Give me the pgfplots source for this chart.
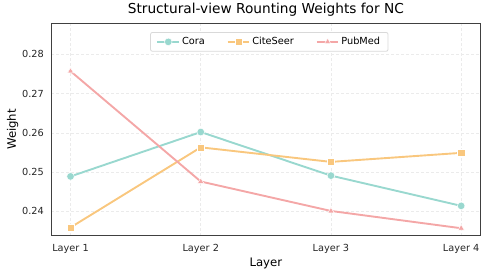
\documentclass[border=0pt]{standalone}
\usepackage{fontspec}
\setmainfont{DejaVu Sans}
\usepackage{pgfplots}
\pgfplotsset{compat=1.18}
\usetikzlibrary{calc}
\definecolor{cora}{HTML}{99D8CF}
\definecolor{cite}{HTML}{F9C77E}
\definecolor{pub}{HTML}{F4A7A7}
\begin{document}
\begin{tikzpicture}
\begin{axis}[
  scale only axis, width=429.7pt, height=212.4pt,
  xmin=0.85, xmax=4.15, ymin=0.2338, ymax=0.2879,
  xtick={1,2,3,4}, xticklabels={Layer 1,Layer 2,Layer 3,Layer 4},
  ytick={0.24,0.25,0.26,0.27,0.28},
  yticklabel style={/pgf/number format/fixed, /pgf/number format/precision=2, /pgf/number format/fixed zerofill, anchor=east, inner sep=0pt, xshift=-7pt},
  xticklabel style={anchor=base, inner sep=0pt, yshift=-15.3pt},
  /pgf/number format/assume math mode=true,
  tick label style={font=\fontsize{9.75}{11}\selectfont, text=black!85},
  major tick length=0pt,
  grid=major, grid style={dash pattern=on 3pt off 2pt, black!8, line width=0.6pt},
  axis line style={black!75, line width=0.9pt},
  title={Structural-view Rounting Weights for NC},
  title style={at={(axis description cs:0.5,1.0202)}, anchor=base, inner sep=0pt, font=\fontsize{13.7}{15}\selectfont},
  xlabel={Layer}, ylabel={Weight},
  xlabel style={at={(axis description cs:0.5,-0.1427)}, anchor=base, inner sep=0pt, font=\fontsize{11.7}{13}\selectfont},
  ylabel style={at={(axis description cs:-0.0815,0.5)}, anchor=base, inner sep=0pt, font=\fontsize{11.7}{13}\selectfont},
  legend style={at={(axis description cs:0.508,0.959)}, anchor=north, legend columns=3, draw=black!15, line width=0.8pt, rounded corners=2pt, fill=white, font=\fontsize{9.75}{11}\selectfont, inner xsep=6pt, inner ysep=3pt,
    /tikz/every even column/.append style={column sep=20pt}},
  legend cell align=left,
  legend image code/.code={\draw[mark repeat=2,mark phase=2] plot coordinates {(0cm,0cm) (0.38cm,0cm) (0.76cm,0cm)};},
]
\addplot[cora, line width=1.9pt, mark=*, mark size=3.8pt, mark options={solid, fill=cora, draw=white, line width=0.5pt}]
  coordinates {(1,0.2489) (2,0.2602) (3,0.2491) (4,0.2414)};
\addlegendentry{Cora}
\addplot[cite, line width=1.9pt, mark=square*, mark size=3.6pt, mark options={solid, fill=cite, draw=white, line width=0.5pt}]
  coordinates {(1,0.2359) (2,0.2563) (3,0.2526) (4,0.2549)};
\addlegendentry{CiteSeer}
\addplot[pub, line width=1.9pt, mark=triangle*, mark size=3.6pt, mark options={solid, fill=pub, draw=white, line width=0.5pt}]
  coordinates {(1,0.2757) (2,0.2476) (3,0.2401) (4,0.2357)};
\addlegendentry{PubMed}
\end{axis}
\pgfresetboundingbox
\path ($(current axis.south west)+(-51pt,-39.3pt)$) rectangle ($(current axis.north east)+(7.3pt,23.3pt)$);
\end{tikzpicture}
\end{document}
